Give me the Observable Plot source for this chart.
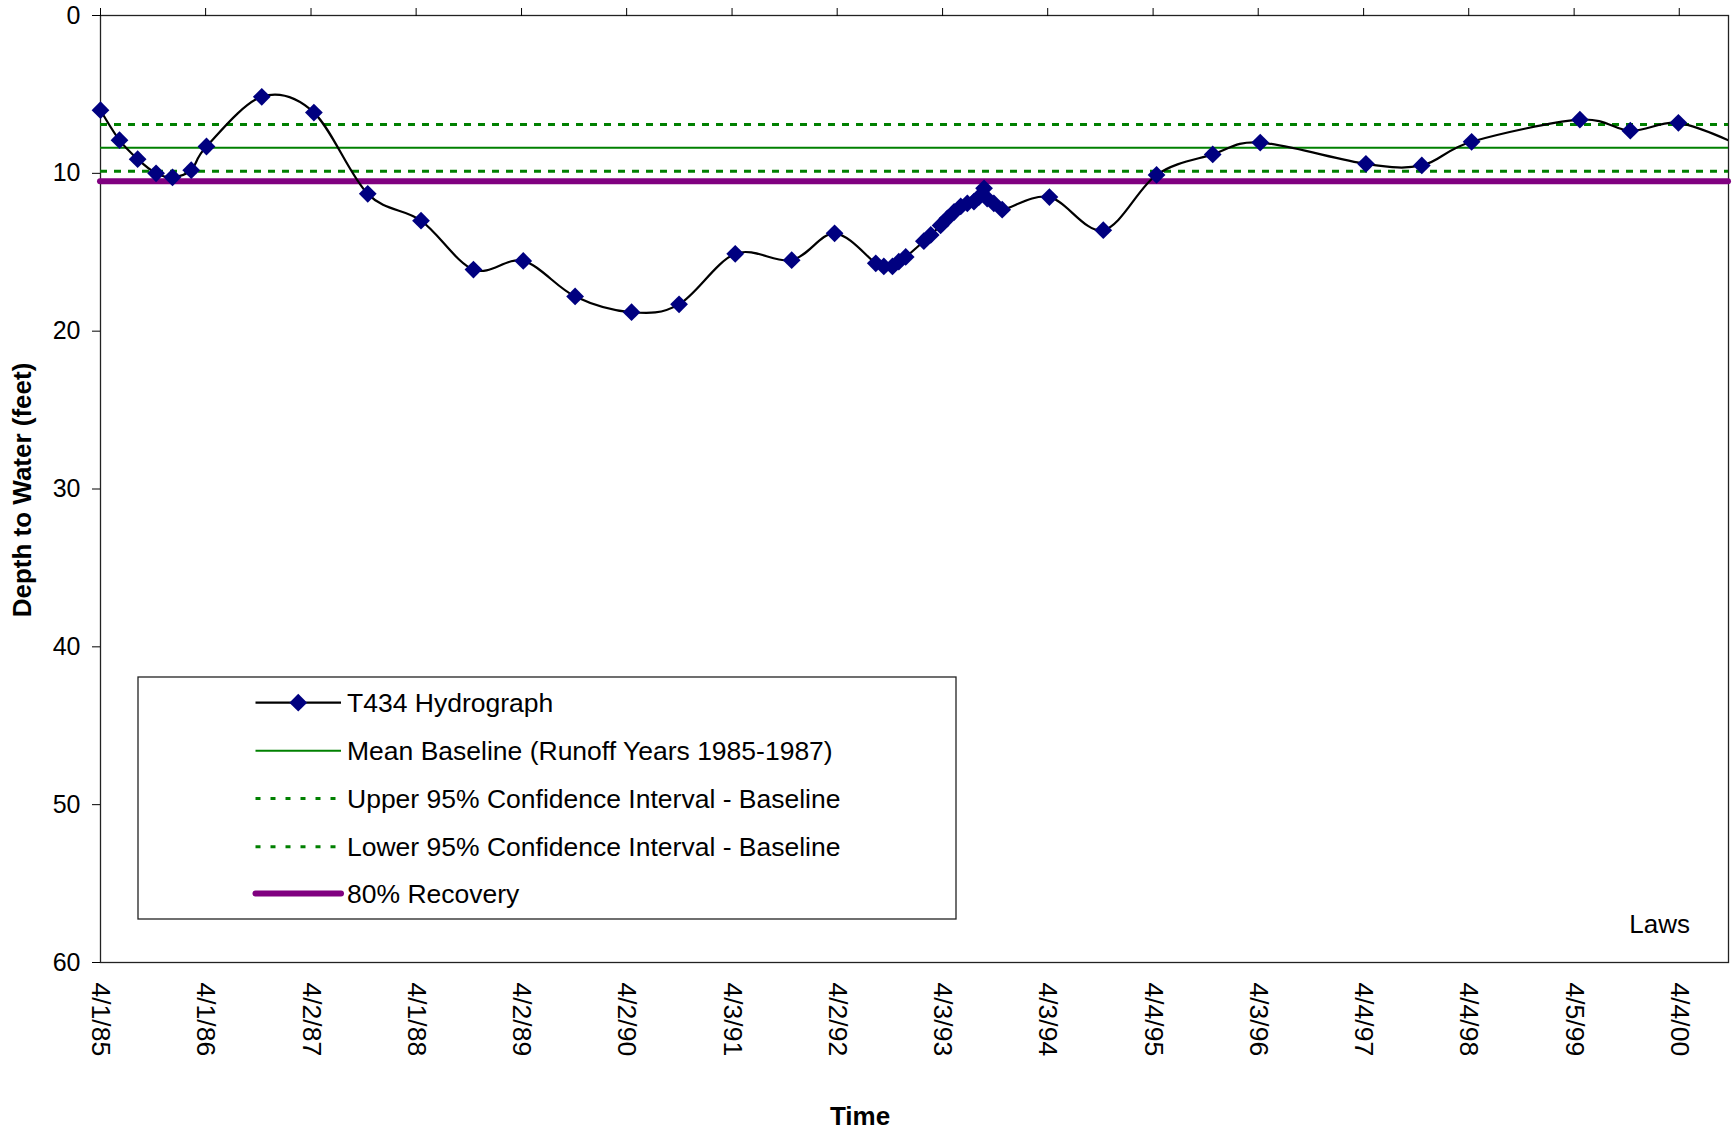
<!DOCTYPE html>
<html><head><meta charset="utf-8">
<script src="https://cdn.jsdelivr.net/npm/d3@7"></script>
<script src="https://cdn.jsdelivr.net/npm/@observablehq/plot@0.6"></script>
<style>
html,body{margin:0;padding:0;background:#fff;}
#chart{width:1732px;height:1131px;}
</style></head><body><div id="chart"></div>
<script>
// ---- data ----
const hydroDates = [
  "1985-04-01","1985-06-06","1985-08-08","1985-10-11","1985-12-07","1986-02-10","1986-04-04",
  "1986-10-13","1987-04-12","1987-10-16","1988-04-18","1988-10-17","1989-04-08","1989-10-05",
  "1990-04-19","1990-10-01","1991-04-14","1991-10-27","1992-03-24",
  "1992-08-14","1992-09-11","1992-10-11","1992-11-02","1992-11-26",
  "1993-01-28","1993-02-21","1993-03-27","1993-04-20","1993-05-13","1993-06-05","1993-06-28",
  "1993-07-21","1993-08-07","1993-08-25","1993-09-05","1993-09-28","1993-10-27",
  "1994-04-09","1994-10-13","1995-04-16","1995-10-28","1996-04-10","1997-04-12","1997-10-23",
  "1998-04-14","1999-04-25","1999-10-17","2000-04-01","2000-10-15"
];
const hydroDepth = [
  6.0, 7.9, 9.1, 10.0, 10.25, 9.8, 8.3,
  5.15, 6.15, 11.3, 13.0, 16.1, 15.55, 17.8,
  18.8, 18.3, 15.1, 15.5, 13.8,
  15.7, 15.9, 15.9, 15.6, 15.3,
  14.3, 13.9, 13.3, 12.85, 12.45, 12.1, 11.9,
  11.8, 11.5, 10.95, 11.6, 11.9, 12.3,
  11.5, 13.6, 10.1, 8.8, 8.05, 9.4, 9.5,
  8.0, 6.6, 7.3, 6.8, 8.1
];
const meanBaseline = 8.38;
const upperCI = 6.9;
const lowerCI = 9.87;
const recovery80 = 10.5;
const tickLabels = ["4/1/85","4/1/86","4/2/87","4/1/88","4/2/89","4/2/90","4/3/91","4/2/92",
  "4/3/93","4/3/94","4/4/95","4/3/96","4/4/97","4/4/98","4/5/99","4/4/00"];
const yTicks = [0, 10, 20, 30, 40, 50, 60];
const xDomain = ["1985-04-01", "2000-09-22"];
const legendLabels = ["T434 Hydrograph", "Mean Baseline (Runoff Years 1985-1987)",
  "Upper 95% Confidence Interval - Baseline", "Lower 95% Confidence Interval - Baseline", "80% Recovery"];

// ---- build ----
const parseISO = d3.utcParse("%Y-%m-%d");
const parseMDY = s => { const [m, d, y] = s.split("/").map(Number);
  return new Date(Date.UTC(y < 50 ? 2000 + y : 1900 + y, m - 1, d)); };
const tickDates = tickLabels.map(parseMDY);
const labelMap = new Map(tickDates.map((d, i) => [+d, tickLabels[i]]));
const domain = xDomain.map(parseISO);
const data = hydroDates.map((d, i) => ({date: parseISO(d), depth: hydroDepth[i]}));
const inDomain = data.filter(d => d.date <= domain[1]);

const FONT = "'Liberation Sans', Arial, Helvetica, sans-serif";
const GREEN = "#008000", PURPLE = "#800080", NAVY = "#000080";
const DOT_R = 8;

const chart = Plot.plot({
  width: 1732, height: 1131,
  marginLeft: 100, marginRight: 4, marginTop: 15, marginBottom: 169,
  style: {fontFamily: FONT, fontSize: "25px", background: "#fff", color: "#000", overflow: "visible"},
  x: {type: "utc", domain},
  y: {domain: [0, 60], reverse: true},
  marks: [
    Plot.frame({stroke: "#222", strokeWidth: 1.3}),
    Plot.ruleY([upperCI, lowerCI], {stroke: GREEN, strokeWidth: 3, strokeDasharray: "7,7"}),
    Plot.ruleY([meanBaseline], {stroke: GREEN, strokeWidth: 2}),
    Plot.ruleY([recovery80], {stroke: PURPLE, strokeWidth: 6, strokeLinecap: "round"}),
    Plot.line(data, {x: "date", y: "depth", curve: "cardinal", stroke: "#000", strokeWidth: 2.2, clip: true}),
    Plot.dot(inDomain, {x: "date", y: "depth", symbol: "diamond2", r: DOT_R, fill: NAVY}),
    Plot.axisY({ticks: yTicks, tickSize: 8, tickPadding: 12, label: null, fontSize: 25}),
    Plot.axisX({anchor: "top", ticks: tickDates, tickSize: 8, tickFormat: () => "", label: null}),
    Plot.axisX({anchor: "bottom", ticks: tickDates, tickSize: 0, tickPadding: 20, tickRotate: 90,
      tickFormat: d => labelMap.get(+d), label: null, fontSize: 26.5})
  ]
});

const svg = d3.select(chart);
// axis titles
svg.append("text").attr("x", 860).attr("y", 1125).attr("text-anchor", "middle")
  .attr("font-family", FONT).attr("font-size", 26).attr("font-weight", "bold").text("Time");
svg.append("text").attr("transform", "translate(31,490) rotate(-90)").attr("text-anchor", "middle")
  .attr("font-family", FONT).attr("font-size", 26).attr("font-weight", "bold").text("Depth to Water (feet)");
svg.append("text").attr("x", 1690).attr("y", 933).attr("text-anchor", "end")
  .attr("font-family", FONT).attr("font-size", 26).text("Laws");

// legend
const lg = svg.append("g").attr("font-family", FONT).attr("font-size", 26.5).attr("text-anchor", "start");
lg.append("rect").attr("x", 138).attr("y", 677).attr("width", 818).attr("height", 242)
  .attr("fill", "#fff").attr("stroke", "#222").attr("stroke-width", 1.3);
const rowY = [702.7, 750.7, 798.5, 846.7, 893.5];
const sx1 = 255.5, sx2 = 341, tx = 347;
const styles = [
  {stroke: "#000", w: 2.2},
  {stroke: GREEN, w: 2},
  {stroke: GREEN, w: 3, dash: "5,10"},
  {stroke: GREEN, w: 3, dash: "5,10"},
  {stroke: PURPLE, w: 6, cap: "round"}
];
legendLabels.forEach((lab, i) => {
  const st = styles[i];
  const ln = lg.append("line").attr("x1", sx1).attr("x2", sx2).attr("y1", rowY[i]).attr("y2", rowY[i])
    .attr("stroke", st.stroke).attr("stroke-width", st.w);
  if (st.dash) ln.attr("stroke-dasharray", st.dash);
  if (st.cap) ln.attr("stroke-linecap", st.cap);
  if (i === 0) {
    lg.append("path").attr("d", d3.symbol(d3.symbolDiamond2, Math.PI * DOT_R * DOT_R)())
      .attr("transform", `translate(${(sx1 + sx2) / 2},${rowY[i]})`).attr("fill", NAVY);
  }
  lg.append("text").attr("x", tx).attr("y", rowY[i]).attr("dy", "0.35em")
    .attr("text-anchor", "start").text(lab);
});

document.getElementById("chart").appendChild(chart);
</script>
</body></html>
